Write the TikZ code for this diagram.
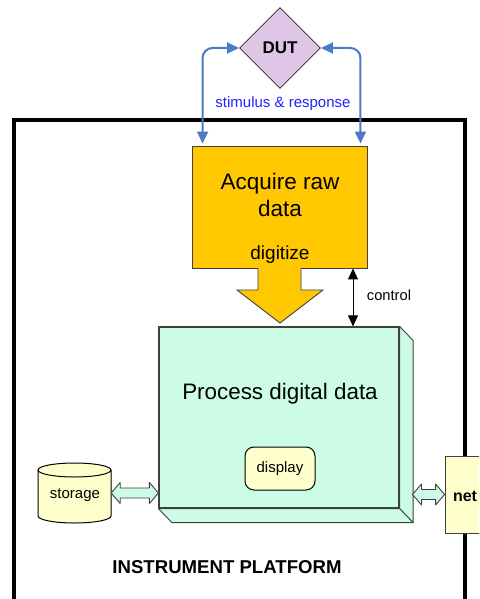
\documentclass[tikz,border=0pt]{standalone}
\usepackage{fontspec}
\setmainfont{Liberation Sans}
\usetikzlibrary{shapes.geometric,arrows.meta,calc}

\definecolor{gold}{HTML}{FFC800}
\definecolor{mint}{HTML}{CCFCE6}
\definecolor{cream}{HTML}{FFFFCC}
\definecolor{lilac}{HTML}{DFC6E9}
\definecolor{linkblue}{HTML}{4A7AC8}
\definecolor{labelblue}{HTML}{2222FF}
\definecolor{edge}{HTML}{404040}

\tikzset{
  box/.style={draw=edge, line width=0.9pt, inner sep=0pt},
  txt/.style={inner sep=0pt, anchor=base},
  platform/.style={line width=4pt, line join=miter},
  dutlink/.style={draw=linkblue, line width=2pt, rounded corners=10pt,
    {Triangle[length=12pt,width=11pt]}-{Triangle[length=12pt,width=11pt]},
    shorten >=2pt},
  ctl/.style={draw=black, line width=1pt,
    {Triangle[length=11pt,width=10pt]}-{Triangle[length=11pt,width=10pt]}},
  cubeface/.style={box, fill=mint, line width=1.2pt},
  cubeside/.style={fill=mint, draw=edge, line width=0.9pt, line join=round},
  blockarrow/.style={fill=mint, draw=edge, line width=0.9pt, line join=round},
}

% two-headed hollow block arrow between two points at the same height
\newcommand{\twoway}[2]{%
  \path[blockarrow] let \p1=(#1), \p2=(#2) in
    (\x1,\y1) -- (\x1+9pt,\y1+10.5pt) -- (\x1+9pt,\y1+5pt) -- (\x2-9pt,\y1+5pt)
    -- (\x2-9pt,\y1+10.5pt) -- (\x2,\y1) -- (\x2-9pt,\y1-10.5pt) -- (\x2-9pt,\y1-5pt)
    -- (\x1+9pt,\y1-5pt) -- (\x1+9pt,\y1-10.5pt) -- cycle;}

\begin{document}
\begin{tikzpicture}[x=1pt, y=-1pt]
\useasboundingbox (0,0) rectangle (479,599);
\clip (0,0) rectangle (479,599);

% instrument platform frame
\draw[platform] (13.5,640) -- (13.5,120) -- (465.3,120) -- (465.3,640);
\node[txt, font=\bfseries\fontsize{18.6}{22}\selectfont] (plat) at (227,573) {INSTRUMENT PLATFORM};

% device under test
\node[diamond, aspect=1, draw=edge, line width=0.9pt, fill=lilac, inner sep=0pt,
      minimum size=81pt, font=\bfseries\fontsize{17}{20}\selectfont] (dut) at (280,48) {DUT};

% acquisition block
\node[box, fill=gold, minimum width=175pt, minimum height=122pt] (acq) at (279.5,207) {};
\node[txt, align=center, font=\fontsize{22.5}{27}\selectfont] (acqtxt) at (280,216) {Acquire raw\\data};
\node[txt, font=\fontsize{19}{22}\selectfont] (dig) at (280,259) {digitize};

% stimulus / response links
\draw[dutlink] (dut.west) -| ([xshift=11pt]acq.north west);
\draw[dutlink] (dut.east) -| ([xshift=-7pt]acq.north east);
\node[txt, text=labelblue, font=\fontsize{15}{18}\selectfont] (stim) at (283,107) {stimulus \& response};

% digitize arrow
\fill[gold] (258.45,266) rectangle (300.55,291);
\draw[box, fill=gold, line join=miter] (258,268) -- (258,290) -- (237,290) -- (280,323)
  -- (323,290) -- (301,290) -- (301,268);

% processing block (box drawn in depth)
\node[cubeface, minimum width=240pt, minimum height=181pt] (proc) at (279,417.5) {};
\filldraw[cubeside] (proc.north east) -- ++(13.5pt,-14pt)
  -- ($(proc.south east)+(13.5pt,-14pt)$) -- (proc.south east) -- cycle;
\filldraw[cubeside] (proc.south west) -- (proc.south east) -- ++(13.5pt,-14pt)
  -- ($(proc.south west)+(13.5pt,-14pt)$) -- cycle;
\node[txt, font=\fontsize{22.4}{26}\selectfont] (proctxt) at (280,399) {Process digital data};

\node[draw=black, line width=1pt, fill=cream, rounded corners=9pt, inner sep=0pt,
      minimum width=70pt, minimum height=43pt, font=\fontsize{15}{18}\selectfont]
      (disp) at (280,468.5) {display};

% control link
\coordinate (cx) at (353,0);
\draw[ctl] (acq.south -| cx) -- (proc.north -| cx);
\node[txt, font=\fontsize{14.7}{17}\selectfont] (ctltxt) at (389,300) {control};

% storage
\filldraw[fill=cream, draw=black, line width=1pt]
  (38,470) -- (38,516) arc[start angle=180, end angle=360, x radius=36.5pt, y radius=7pt]
  -- (111,470) arc[start angle=0, end angle=180, x radius=36.5pt, y radius=7pt] -- cycle;
\draw[black, line width=1pt] (38,470) arc[start angle=180, end angle=360, x radius=36.5pt, y radius=7pt];
\node[inner sep=0pt, minimum width=73pt, minimum height=60pt] (stor) at (74.5,493) {};
\node[txt, font=\fontsize{15}{18}\selectfont] (stortxt) at (75,498) {storage};
\twoway{stor.east}{proc.west |- stor.east}

% network
\node[box, fill=cream, minimum width=55pt, minimum height=77pt] (net) at (472.5,494.5) {};
\node[txt, font=\bfseries\fontsize{16}{19}\selectfont] (nettxt) at (465,501) {net};
\coordinate (pside) at (412.5,0);
\twoway{pside |- net.west}{net.west}
\end{tikzpicture}
\end{document}
